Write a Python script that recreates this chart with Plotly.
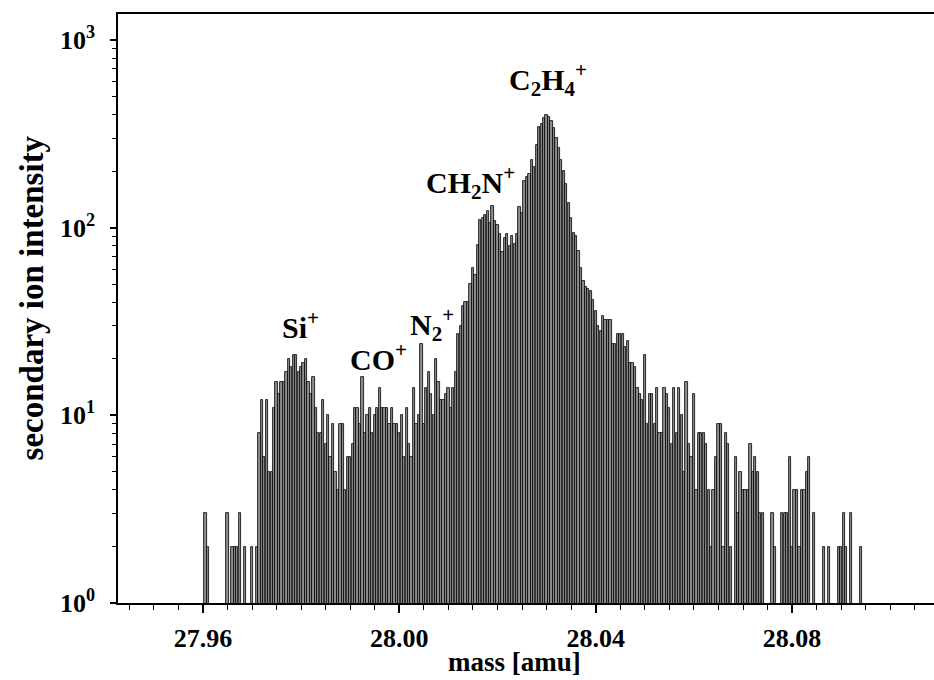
import math
import plotly.graph_objects as go

# ---- data ----
MASS_START = 27.960      # amu, first bin
MASS_STEP = 0.0005       # amu, bin width of the spectrum
counts = [
    0, 3, 2, 0, 0, 0, 0, 0, 0, 0,
    3, 0, 2, 2, 2, 3, 0, 2, 0, 0,
    2, 0, 2, 8, 12, 6, 12, 5, 5, 11,
    15, 13, 15, 15, 17, 20, 18, 21, 21, 17,
    18, 19, 20, 15, 13, 16, 11, 8, 8, 12,
    7, 10, 6, 9, 5, 4, 9, 9, 4, 6,
    6, 7, 11, 11, 9, 16, 8, 10, 11, 8,
    10, 11, 14, 11, 11, 11, 9, 11, 9, 9,
    8, 10, 6, 11, 7, 6, 14, 9, 10, 24,
    9, 14, 17, 13, 10, 20, 15, 12, 12, 13,
    14, 11, 14, 17, 27, 30, 38, 40, 40, 50,
    61, 56, 81, 110, 113, 117, 122, 106, 130, 108,
    103, 92, 74, 88, 92, 80, 90, 82, 92, 128,
    120, 177, 185, 192, 230, 210, 277, 345, 355, 385,
    400, 390, 370, 340, 300, 265, 230, 200, 170, 135,
    113, 94, 90, 75, 61, 52, 48, 47, 46, 41,
    36, 30, 28, 34, 32, 32, 32, 24, 24, 27,
    27, 27, 23, 25, 19, 19, 18, 14, 13, 12,
    21, 9, 13, 13, 9, 14, 8, 8, 14, 13,
    11, 7, 14, 8, 14, 10, 5, 15, 7, 6,
    13, 4, 8, 8, 8, 7, 4, 2, 4, 6,
    9, 9, 2, 8, 7, 2, 0, 6, 3, 5,
    4, 4, 4, 7, 5, 6, 5, 3, 3, 0,
    0, 0, 3, 2, 0, 0, 3, 3, 3, 6,
    2, 4, 4, 2, 4, 4, 5, 6, 0, 3,
    0, 0, 0, 2, 0, 2, 0, 0, 0, 2,
    2, 3, 2, 0, 3, 0, 0, 0, 2,
]
x_tick_vals = [27.96, 28.00, 28.04, 28.08]
x_tick_text = ["27.96", "28.00", "28.04", "28.08"]
y_tick_vals = [1, 10, 100, 1000]
y_tick_base = ["10", "10", "10", "10"]
y_tick_exp = ["0", "1", "2", "3"]
y_minor_vals = [2, 3, 4, 5, 6, 7, 8, 9, 20, 30, 40, 50, 60, 70, 80, 90,
                200, 300, 400, 500, 600, 700, 800, 900]
# peak labels: (kind, text) pieces; n = normal, b = subscript, p = superscript
peak_labels = [
    [("n", "Si"), ("p", "+")],
    [("n", "CO"), ("p", "+")],
    [("n", "N"), ("b", "2"), ("p", "+")],
    [("n", "CH"), ("b", "2"), ("n", "N"), ("p", "+")],
    [("n", "C"), ("b", "2"), ("n", "H"), ("b", "4"), ("p", "+")],
]
peak_label_mass = [27.9798, 27.9957, 28.0067, 28.0144, 28.0303]
peak_label_height = [30.4, 20.5, 30.4, 174, 615]

mass_all = [round(MASS_START + i * MASS_STEP, 5) for i in range(len(counts))]
mass = [m for m, c in zip(mass_all, counts) if c > 0]
inten = [c for c in counts if c > 0]

FONT = "Liberation Serif"


def rich(parts):
    out = ""
    for kind, s in parts:
        if kind == "n":
            out += s
        elif kind == "b":
            out += "<sub>%s</sub>" % s
        else:
            out += "<sup>%s</sup>" % s
    return "<b>" + out + "</b>"


fig = go.Figure()
fig.add_trace(go.Bar(
    x=mass, y=inten, width=MASS_STEP * 0.92,
    marker=dict(color="#8e8e8e", line=dict(color="black", width=0.8)),
    showlegend=False,
))

for parts, mx, hy in zip(peak_labels, peak_label_mass, peak_label_height):
    fig.add_annotation(x=mx, y=math.log10(hy), text=rich(parts),
                       showarrow=False, font=dict(family=FONT, size=30, color="black"),
                       xanchor="center", yanchor="middle")

fig.add_annotation(xref="paper", yref="paper", x=0.486, y=-0.1002,
                   text="<b>mass [amu]</b>", showarrow=False,
                   font=dict(family=FONT, size=27, color="black"),
                   xanchor="center", yanchor="middle")
fig.add_annotation(xref="paper", yref="paper", x=-0.106, y=0.518,
                   text="<b>secondary ion intensity</b>", showarrow=False, textangle=-90,
                   font=dict(family=FONT, size=33, color="black"),
                   xanchor="center", yanchor="middle")

y_tick_text = [rich([("n", b), ("p", e)]) for b, e in zip(y_tick_base, y_tick_exp)]

fig.update_layout(
    width=934, height=680,
    margin=dict(l=118, r=0, t=14, b=77),
    paper_bgcolor="white", plot_bgcolor="white",
    bargap=0,
    font=dict(family=FONT, color="black"),
    xaxis=dict(
        range=[27.9427, 28.1089],
        tickmode="array", tickvals=x_tick_vals, ticktext=["<b>" + t + "</b>" for t in x_tick_text],
        ticks="outside", ticklen=8, tickwidth=1.5, tickcolor="black",
        minor=dict(dtick=0.005, tick0=27.96, ticks="outside", ticklen=5, tickwidth=1, tickcolor="black"),
        showline=True, linecolor="black", linewidth=2.2, mirror=True,
        showgrid=False, zeroline=False,
        tickfont=dict(family=FONT, size=26, color="black"),
        ticklabelstandoff=3,
    ),
    yaxis=dict(
        type="log", range=[0, 3.138],
        tickmode="array", tickvals=y_tick_vals, ticktext=y_tick_text,
        ticks="outside", ticklen=6, tickwidth=1.5, tickcolor="black",
        minor=dict(tickmode="array", tickvals=y_minor_vals, ticks="outside", ticklen=4,
                   tickwidth=1, tickcolor="black", showgrid=False),
        showline=True, linecolor="black", linewidth=1.5,
        showgrid=False, zeroline=False,
        tickfont=dict(family=FONT, size=26, color="black"),
        ticklabelstandoff=10,
    ),
)

fig.write_html("out.html")
